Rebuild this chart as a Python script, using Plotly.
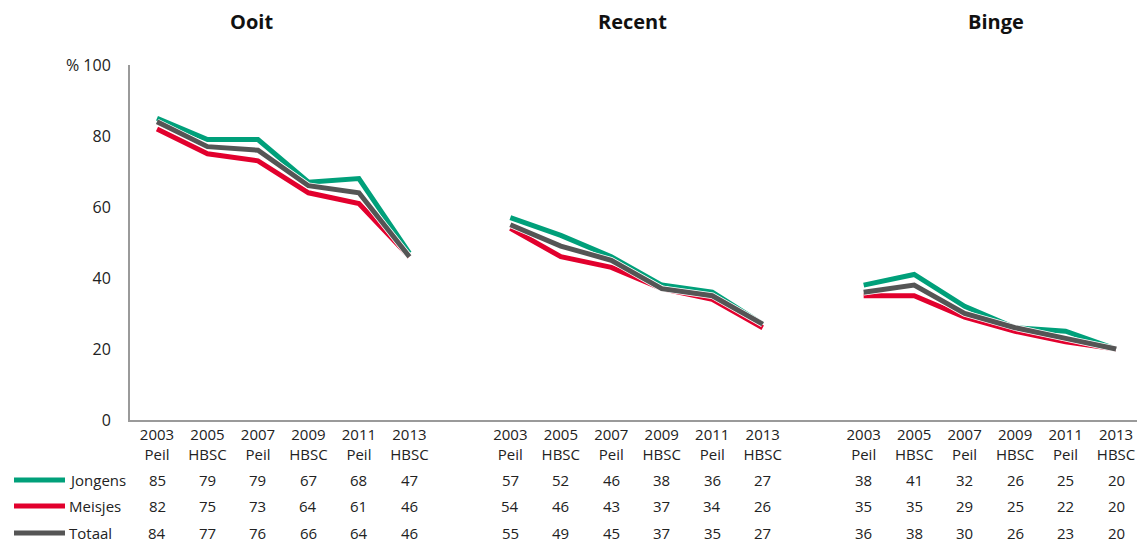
import plotly.graph_objects as go

# ---- data ----
groups = ["Ooit", "Recent", "Binge"]
years = ["2003<br>Peil", "2005<br>HBSC", "2007<br>Peil", "2009<br>HBSC", "2011<br>Peil", "2013<br>HBSC"]
series_names = ["Jongens", "Meisjes", "Totaal"]
jongens = {"Ooit": [85, 79, 79, 67, 68, 47], "Recent": [57, 52, 46, 38, 36, 27], "Binge": [38, 41, 32, 26, 25, 20]}
meisjes = {"Ooit": [82, 75, 73, 64, 61, 46], "Recent": [54, 46, 43, 37, 34, 26], "Binge": [35, 35, 29, 25, 22, 20]}
totaal = {"Ooit": [84, 77, 76, 66, 64, 46], "Recent": [55, 49, 45, 37, 35, 27], "Binge": [36, 38, 30, 26, 23, 20]}
y_ticks = [0, 20, 40, 60, 80, 100]
y_ticktext = ["0", "20", "40", "60", "80", "% 100"]

colors = {"Jongens": "#00A07A", "Meisjes": "#E2002D", "Totaal": "#555555"}
data = {"Jongens": jongens, "Meisjes": meisjes, "Totaal": totaal}

W, H = 1138, 545
L, R, T, B = 130, 1, 65, 125
pw, ph = W - L - R, H - T - B

def px_x(x):
    return (x - L) / pw

def px_y(y):
    return (H - B - y) / ph

FONT = "Open Sans"

fig = go.Figure()

# slot positions: groups separated by one empty slot
xs_all, labels_all = [], []
group_x = {}
for gi, g in enumerate(groups):
    xs = [gi * 7 + i for i in range(len(years))]
    group_x[g] = xs
    xs_all += xs
    labels_all += years

for name in series_names:
    xx, yy = [], []
    for g in groups:
        xx += group_x[g] + [None]
        yy += data[name][g] + [None]
    fig.add_trace(go.Scatter(x=xx, y=yy, mode="lines", line=dict(color="white", width=6.5),
                             hoverinfo="skip", showlegend=False))
    fig.add_trace(go.Scatter(x=xx, y=yy, mode="lines", name=name,
                             line=dict(color=colors[name], width=5), showlegend=False))

ann = []
# titles
title_px = {"Ooit": 251, "Recent": 632, "Binge": 996}
for g in groups:
    ann.append(dict(x=px_x(title_px[g]), y=px_y(22), xref="paper", yref="paper", text="<b>%s</b>" % g,
                    xanchor="center", yanchor="middle",
                    showarrow=False, font=dict(size=20, color="#111", family=FONT)))

# table rows
row_y = [480, 506, 533]
for ri, name in enumerate(series_names):
    yp = px_y(row_y[ri])
    for g in groups:
        for x, v in zip(group_x[g], data[name][g]):
            ann.append(dict(x=x, y=yp, xref="x", yref="paper", text=str(v), showarrow=False,
                            xanchor="center", yanchor="middle",
                            font=dict(size=15, color="#222", family=FONT)))
    ann.append(dict(x=px_x(67), y=yp, xref="paper", yref="paper", text=name, showarrow=False,
                    xanchor="left", yanchor="middle", font=dict(size=15, color="#222", family=FONT)))
    fig.add_shape(type="line", xref="paper", yref="paper", x0=px_x(14), x1=px_x(65), y0=yp, y1=yp,
                  line=dict(color=colors[name], width=5))

fig.update_layout(
    width=W, height=H,
    margin=dict(l=L, r=R, t=T, b=B),
    paper_bgcolor="white", plot_bgcolor="white",
    annotations=ann,
    font=dict(family=FONT, size=15, color="#222"),
    xaxis=dict(range=[-0.535, 19.415], tickvals=xs_all, ticktext=labels_all, showgrid=False,
               zeroline=False, showline=True, linecolor="#9a9a9a", linewidth=2,
               tickfont=dict(size=15, color="#222", family=FONT), ticks="", fixedrange=True),
    yaxis=dict(range=[0, 100], tickvals=y_ticks, ticktext=y_ticktext, showgrid=False,
               zeroline=False, showline=True, linecolor="#9a9a9a", linewidth=2,
               ticklabelstandoff=14, tickfont=dict(size=16, color="#222", family=FONT), ticks=""),
)

fig.write_html("out.html", config={"displayModeBar": False},
               post_script="document.body.style.margin='0';document.body.style.padding='0';")
